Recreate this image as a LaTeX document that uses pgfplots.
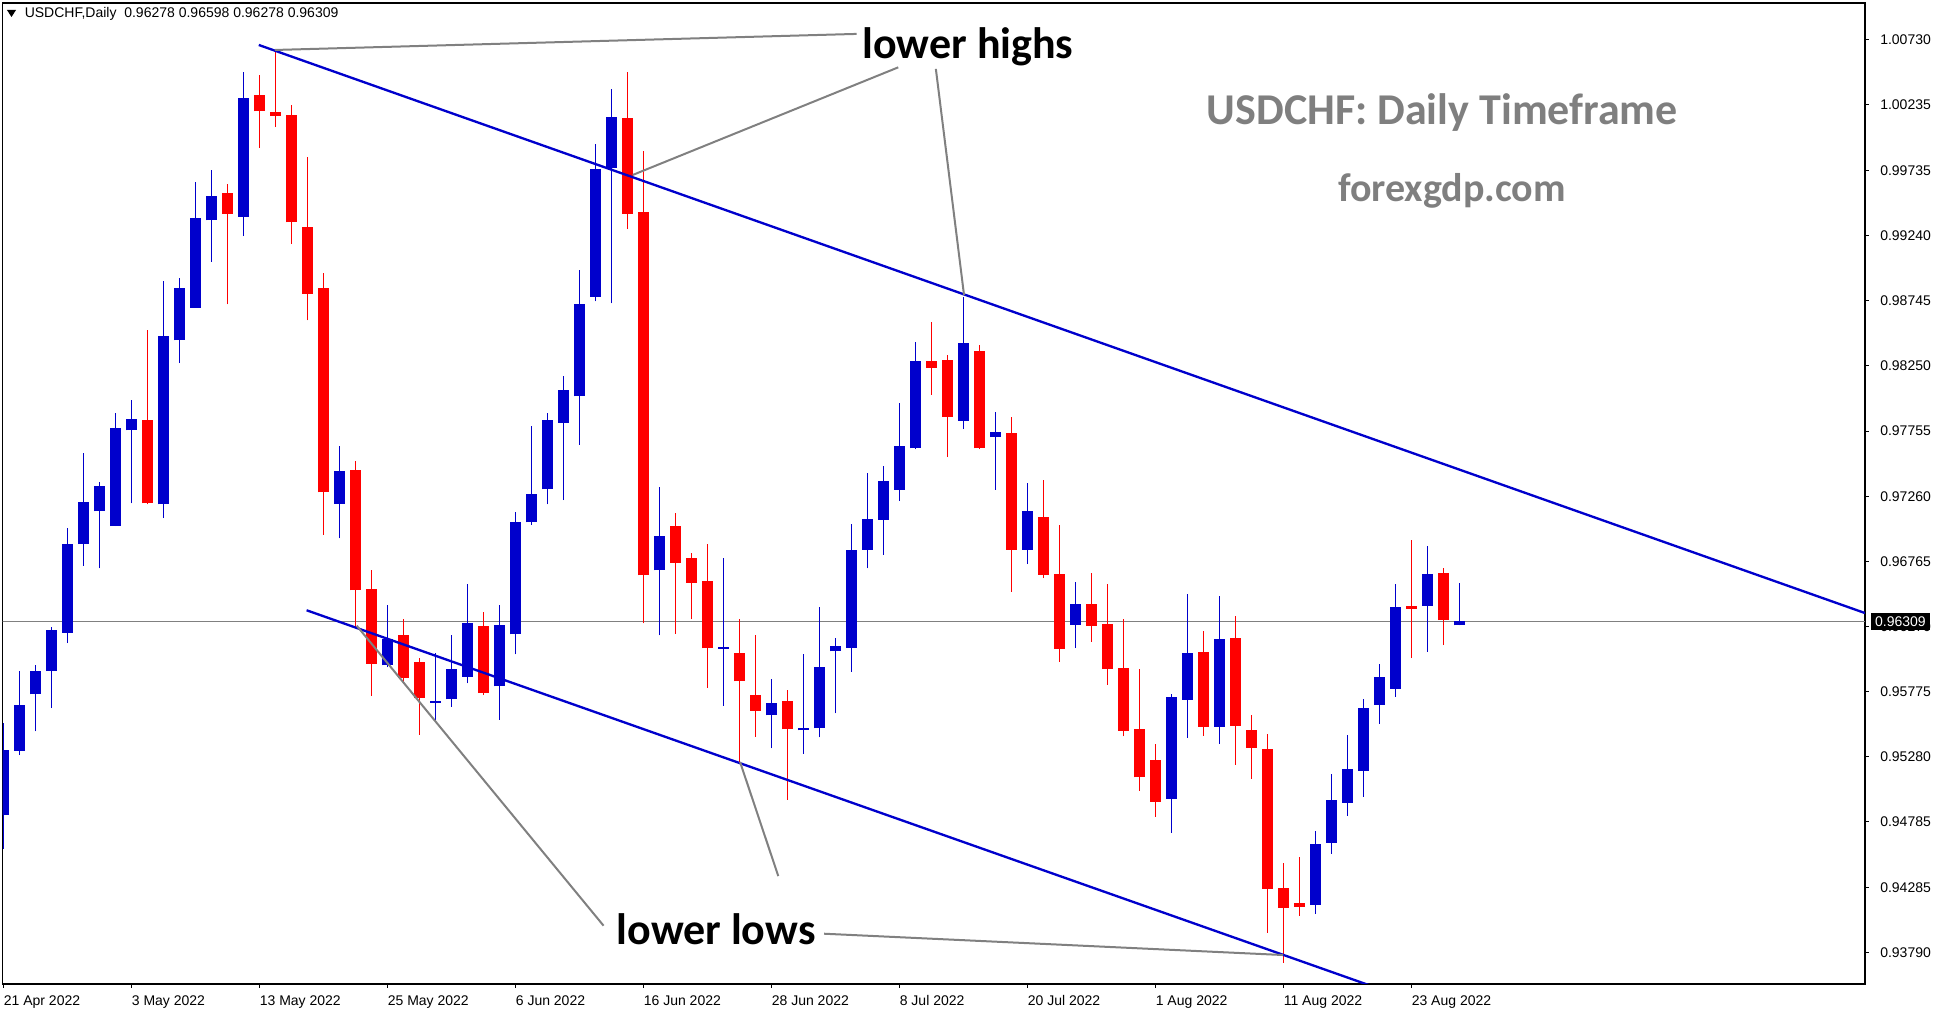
\documentclass[border=0pt]{standalone}
\usepackage{pgfplots}
\pgfplotsset{compat=1.18}
\usepackage{pgfplotstable}
\usepackage{fontspec}
\setmainfont{Liberation Sans}
\newfontfamily\calibri{Carlito}
\definecolor{cblue}{RGB}{0,0,204}
\definecolor{cred}{RGB}{255,0,0}
\definecolor{cgray}{RGB}{128,128,128}
\definecolor{tgray}{RGB}{127,127,127}

% x = bar index (0 = 21 Apr 2022), o h l c
\pgfplotstableread{
x o h l c
0 0.94834 0.95533 0.94580 0.95332
1 0.95324 0.95935 0.95292 0.95670
2 0.95754 0.95975 0.95473 0.95935
3 0.95931 0.96269 0.95650 0.96245
4 0.96221 0.97021 0.96144 0.96900
5 0.96896 0.97591 0.96731 0.97218
6 0.97145 0.97370 0.96711 0.97338
7 0.97033 0.97893 0.97033 0.97780
8 0.97760 0.97993 0.97205 0.97849
10 0.97197 0.98894 0.97093 0.98480
11 0.98444 0.98918 0.98271 0.98842
12 0.98693 0.99650 0.98693 0.99376
13 0.99356 0.99738 0.99043 0.99541
15 0.99384 1.00482 0.99236 1.00285
21 0.97204 0.97643 0.96939 0.97451
24 0.95974 0.96434 0.95960 0.96176
27 0.95690 0.96066 0.95543 0.95705
28 0.95716 0.96206 0.95661 0.95948
29 0.95889 0.96593 0.95837 0.96294
31 0.95815 0.96434 0.95561 0.96280
32 0.96210 0.97142 0.96058 0.97064
33 0.97061 0.97794 0.97042 0.97278
34 0.97311 0.97893 0.97197 0.97838
35 0.97819 0.98173 0.97230 0.98066
36 0.98018 0.98980 0.97650 0.98722
37 0.98774 0.99938 0.98740 0.99746
38 0.99757 1.00354 0.98726 1.00144
41 0.96696 0.97329 0.96202 0.96957
45 0.96099 0.96792 0.95668 0.96114
48 0.95594 0.95871 0.95344 0.95690
50 0.95480 0.96062 0.95303 0.95495
51 0.95495 0.96420 0.95428 0.95963
52 0.96081 0.96184 0.95609 0.96121
53 0.96110 0.97049 0.95926 0.96851
54 0.96854 0.97436 0.96711 0.97086
55 0.97080 0.97487 0.96814 0.97373
56 0.97308 0.97965 0.97224 0.97639
57 0.97623 0.98429 0.97617 0.98285
60 0.97832 0.98770 0.97769 0.98421
62 0.97709 0.97897 0.97308 0.97745
64 0.96852 0.97357 0.96743 0.97145
67 0.96282 0.96605 0.96105 0.96437
73 0.94961 0.95754 0.94703 0.95734
74 0.95714 0.96517 0.95425 0.96068
76 0.95509 0.96502 0.95379 0.96175
82 0.94156 0.94716 0.94085 0.94617
83 0.94627 0.95149 0.94541 0.94951
84 0.94931 0.95445 0.94830 0.95187
85 0.95174 0.95719 0.94974 0.95650
86 0.95676 0.95985 0.95529 0.95886
87 0.95797 0.96593 0.95734 0.96418
89 0.96428 0.96882 0.96076 0.96669
91 0.96278 0.96598 0.96278 0.96309
}\bull

\pgfplotstableread{
x o h l c
9 0.97841 0.98524 0.97197 0.97205
14 0.99565 0.99634 0.98717 0.99408
16 1.00309 1.00462 0.99907 1.00184
17 1.00176 1.00650 1.00064 1.00152
18 1.00156 1.00233 0.99175 0.99340
19 0.99308 0.99835 0.98597 0.98799
20 0.98844 0.98958 0.96968 0.97289
22 0.97458 0.97528 0.96268 0.96545
23 0.96556 0.96700 0.95742 0.95988
25 0.96206 0.96324 0.95845 0.95882
26 0.96000 0.96029 0.95447 0.95723
30 0.96272 0.96379 0.95749 0.95764
39 1.00133 1.00487 0.99289 0.99407
40 0.99422 0.99882 0.96294 0.96659
42 0.97035 0.97134 0.96213 0.96755
43 0.96792 0.96832 0.96324 0.96604
44 0.96615 0.96898 0.95804 0.96103
46 0.96070 0.96327 0.95226 0.95852
47 0.95749 0.96206 0.95432 0.95631
49 0.95705 0.95786 0.94953 0.95487
58 0.98285 0.98581 0.98030 0.98233
59 0.98293 0.98336 0.97557 0.97861
61 0.98361 0.98412 0.97617 0.97623
63 0.97737 0.97859 0.96532 0.96852
65 0.97099 0.97386 0.96637 0.96662
66 0.96665 0.97039 0.96000 0.96097
68 0.96437 0.96673 0.96152 0.96274
69 0.96285 0.96589 0.95826 0.95945
70 0.95951 0.96323 0.95435 0.95476
71 0.95487 0.95943 0.95020 0.95123
72 0.95253 0.95373 0.94822 0.94936
75 0.96076 0.96236 0.95440 0.95509
77 0.96182 0.96350 0.95220 0.95516
78 0.95483 0.95597 0.95113 0.95349
79 0.95339 0.95453 0.93943 0.94278
80 0.94283 0.94473 0.93715 0.94133
81 0.94169 0.94518 0.94072 0.94141
88 0.96426 0.96927 0.96030 0.96405
90 0.96676 0.96714 0.96129 0.96319
}\bear

\begin{document}
\begin{tikzpicture}
\useasboundingbox (-2.025pt,-20.25pt) rectangle (1448.5pt,738pt);
\begin{axis}[
  at={(0,0)}, anchor=south west,
  scale only axis, width=1396.7pt, height=735.75pt,
  xmin=-0.056, xmax=116.34, ymin=0.93553, ymax=1.01008,
  axis line style={line width=0.9pt, black},
  tick align=outside, major tick length=3pt,
  tick style={black, line width=0.75pt},
  xtick pos=left, ytick pos=right, yticklabel pos=right,
  xtick={0,8,16,24,32,40,48,56,64,72,80,88},
  xticklabels={21 Apr 2022,3 May 2022,13 May 2022,25 May 2022,6 Jun 2022,16 Jun 2022,28 Jun 2022,8 Jul 2022,20 Jul 2022,1 Aug 2022,11 Aug 2022,23 Aug 2022},
  ytick={1.00730,1.00235,0.99735,0.99240,0.98745,0.98250,0.97755,0.97260,0.96765,0.96270,0.95775,0.95280,0.94785,0.94285,0.93790},
  yticklabels={1.00730,1.00235,0.99735,0.99240,0.98745,0.98250,0.97755,0.97260,0.96765,0.96270,0.95775,0.95280,0.94785,0.94285,0.93790},
  ticklabel style={font=\fontsize{10.5}{12}\selectfont, inner sep=0pt},
  xticklabel style={anchor=base west, yshift=-13.3pt},
  yticklabel style={anchor=west, xshift=8.3pt},
  minor tick num=0,
  candle/.style={draw=none, mark=none, mark options={draw=none, fill=none}},
]
% current price line
\addplot[cgray, line width=0.75pt] coordinates {(-1,0.96309) (118,0.96309)};
% wicks
\addplot[candle, error bars/.cd, y dir=plus, y explicit, error mark=none,
  error bar style={draw=cblue, line width=0.75pt}]
  table[x=x, y=l, y error expr={\thisrow{h}-\thisrow{l}}] {\bull};
\addplot[candle, error bars/.cd, y dir=plus, y explicit, error mark=none,
  error bar style={draw=cred, line width=0.75pt}]
  table[x=x, y=l, y error expr={\thisrow{h}-\thisrow{l}}] {\bear};
% bodies
\addplot[candle, error bars/.cd, y dir=plus, y explicit, error mark=none,
  error bar style={draw=cblue, line width=8.25pt}]
  table[x=x, y=o, y error expr={max(\thisrow{c}-\thisrow{o},0.00007)}] {\bull};
\addplot[candle, error bars/.cd, y dir=plus, y explicit, error mark=none,
  error bar style={draw=cred, line width=8.25pt}]
  table[x=x, y=c, y error expr={max(\thisrow{o}-\thisrow{c},0.00007)}] {\bear};
% trend lines
\addplot[cblue, line width=1.75pt] coordinates {(15.95,1.00689) (116.34,0.96372)};
\addplot[cblue, line width=1.75pt] coordinates {(18.94,0.96393) (86,0.93516)};
% annotation pointers
\addplot[cgray, line width=1.5pt] coordinates {(16.96,1.00651) (53.32,1.00773)};
\addplot[cgray, line width=1.5pt] coordinates {(39.32,0.99701) (55.92,1.00519)};
\addplot[cgray, line width=1.5pt] coordinates {(58.27,1.00507) (60.03,0.98789)};
\addplot[cgray, line width=1.5pt] coordinates {(22.07,0.96276) (37.5,0.93996)};
\addplot[cgray, line width=1.5pt] coordinates {(46.03,0.95241) (48.42,0.94373)};
\addplot[cgray, line width=1.5pt] coordinates {(51.28,0.93935) (79.98,0.93773)};
% texts
\node[anchor=base, inner sep=0pt, font=\calibri\bfseries\fontsize{33}{36}\selectfont] at (axis cs:60.28,1.00583) {lower highs};
\node[anchor=base, inner sep=0pt, font=\calibri\bfseries\fontsize{33}{36}\selectfont] at (axis cs:44.53,0.93854) {lower lows};
\node[anchor=base, inner sep=0pt, text=tgray, font=\calibri\bfseries\fontsize{33}{36}\selectfont] at (axis cs:89.93,1.00081) {USDCHF: Daily Timeframe};
\node[anchor=base, inner sep=0pt, text=tgray, font=\calibri\bfseries\fontsize{30}{34}\selectfont] at (axis cs:90.53,0.99498) {forexgdp.com};
\end{axis}
% header
\fill[black] (3.2pt,730.5pt) -- (10pt,730.5pt) -- (6.6pt,725.25pt) -- cycle;
\node[anchor=west, inner sep=0pt, font=\fontsize{10.5}{12}\selectfont] at (16.35pt,727.5pt) {USDCHF,Daily\ \ 0.96278 0.96598 0.96278 0.96309};
% current price label
\fill[black] (1401.2pt,265.5pt) rectangle (1445.5pt,278.6pt);
\node[text=white, inner sep=0pt, font=\fontsize{10.5}{12}\selectfont] at (1423.3pt,272pt) {0.96309};
\end{tikzpicture}
\end{document}
